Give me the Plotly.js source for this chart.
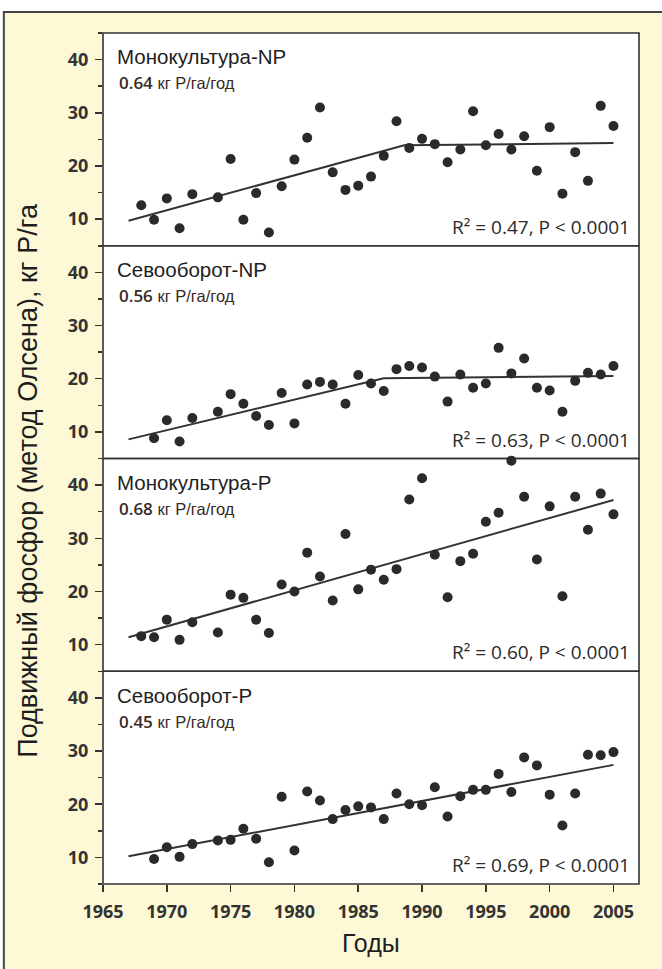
<!DOCTYPE html>
<html>
<head>
<meta charset="utf-8">
<script src="https://cdn.plot.ly/plotly-3.0.1.min.js"></script>
<style>
html,body{margin:0;padding:0;background:#ffffff;}
#chart{width:662px;height:969px;}
</style>
</head>
<body>
<div id="chart"></div>
<script>
// ---- Data ----
const panelNames = ["Монокультура-NP", "Севооборот-NP", "Монокультура-P", "Севооборот-P"];
const rates = ["0.64", "0.56", "0.68", "0.45"];
const stats = ["R² = 0.47, P < 0.0001", "R² = 0.63, P < 0.0001", "R² = 0.60, P < 0.0001", "R² = 0.69, P < 0.0001"];

const yearsMonoNP = [1968,1969,1970,1971,1972,1974,1975,1976,1977,1978,1979,1980,1981,1982,1983,1984,1985,1986,1987,1988,1989,1990,1991,1992,1993,1994,1995,1996,1997,1998,1999,2000,2001,2002,2003,2004,2005];
const valsMonoNP  = [12.6,9.9,13.9,8.3,14.7,14.1,21.3,9.9,14.9,7.5,16.2,21.2,25.3,31.0,18.8,15.5,16.3,18.0,21.9,28.4,23.4,25.1,24.1,20.7,23.1,30.3,23.9,26.0,23.1,25.6,19.1,27.3,14.8,22.6,17.2,31.3,27.5];
const fitXMonoNP = [1967, 1988.6, 2005];
const fitYMonoNP = [9.7, 23.9, 24.3];

const yearsRotNP = [1969,1970,1971,1972,1974,1975,1976,1977,1978,1979,1980,1981,1982,1983,1984,1985,1986,1987,1988,1989,1990,1991,1992,1993,1994,1995,1996,1997,1998,1999,2000,2001,2002,2003,2004,2005];
const valsRotNP  = [8.8,12.2,8.2,12.6,13.8,17.1,15.3,13.0,11.3,17.3,11.6,18.9,19.4,18.9,15.3,20.7,19.1,17.7,21.8,22.4,22.1,20.4,15.7,20.8,18.3,19.1,25.8,21.0,23.8,18.3,17.8,13.8,19.6,21.1,20.8,22.4];
const fitXRotNP = [1967, 1987.0, 2005];
const fitYRotNP = [8.6, 20.1, 20.5];

const yearsMonoP = [1968,1969,1970,1971,1972,1974,1975,1976,1977,1978,1979,1980,1981,1982,1983,1984,1985,1986,1987,1988,1989,1990,1991,1992,1993,1994,1995,1996,1997,1998,1999,2000,2001,2002,2003,2004,2005];
const valsMonoP  = [11.6,11.4,14.7,10.9,14.2,12.3,19.4,18.8,14.7,12.2,21.3,20.0,27.3,22.8,18.3,30.8,20.4,24.1,22.2,24.2,37.3,41.3,26.9,18.9,25.7,27.1,33.1,34.8,44.6,37.8,26.0,36.0,19.1,37.8,31.6,38.4,34.5];
const fitXMonoP = [1967, 2005];
const fitYMonoP = [11.4, 37.2];

const yearsRotP = [1969,1970,1971,1972,1974,1975,1976,1977,1978,1979,1980,1981,1982,1983,1984,1985,1986,1987,1988,1989,1990,1991,1992,1993,1994,1995,1996,1997,1998,1999,2000,2001,2002,2003,2004,2005];
const valsRotP  = [9.7,11.9,10.1,12.5,13.2,13.3,15.4,13.5,9.1,21.4,11.3,22.4,20.7,17.2,18.9,19.6,19.4,17.2,22.0,20.0,19.8,23.2,17.7,21.5,22.7,22.7,25.7,22.3,28.8,27.3,21.8,16.0,22.0,29.3,29.2,29.8];
const fitXRotP = [1967, 2005];
const fitYRotP = [10.2, 27.4];

const yTickVals = [10, 20, 30, 40];
const yTickText = ["10", "20", "30", "40"];
const xTickVals = [1965,1970,1975,1980,1985,1990,1995,2000,2005];
const xTickText = ["1965","1970","1975","1980","1985","1990","1995","2000","2005"];

// ---- Build traces ----
const dotColor = "#2a2a2a";
const lineColor = "#333333";
const panels = [
  {years: yearsMonoNP, vals: valsMonoNP, fx: fitXMonoNP, fy: fitYMonoNP, ax: "y4"},
  {years: yearsRotNP,  vals: valsRotNP,  fx: fitXRotNP,  fy: fitYRotNP,  ax: "y3"},
  {years: yearsMonoP,  vals: valsMonoP,  fx: fitXMonoP,  fy: fitYMonoP,  ax: "y2"},
  {years: yearsRotP,   vals: valsRotP,   fx: fitXRotP,   fy: fitYRotP,   ax: "y"}
];
const traces = [];
panels.forEach(p => {
  traces.push({x: p.fx, y: p.fy, xaxis: "x", yaxis: p.ax, mode: "lines",
    line: {color: lineColor, width: 2}, hoverinfo: "skip", showlegend: false});
  traces.push({x: p.years, y: p.vals, xaxis: "x", yaxis: p.ax, mode: "markers", cliponaxis: false,
    marker: {color: dotColor, size: 10}, showlegend: false});
});

// ---- Layout ----
const tickFont = {family: "Open Sans, sans-serif", size: 18, color: "#333333"};
const bold = t => "<b>" + t + "</b>";
function yAxis(domain) {
  return {
    domain: domain, range: [5, 45], anchor: "x",
    tickmode: "array", tickvals: yTickVals, ticktext: yTickText.map(bold),
    ticks: "outside", ticklen: 7, tickwidth: 1.5, tickcolor: "#333",
    minor: {tickmode: "array", tickvals: [5, 15, 25, 35, 45], ticks: "outside", ticklen: 4, tickwidth: 1.5, tickcolor: "#333", showgrid: false},
    showgrid: false, zeroline: false, showline: false,
    tickfont: tickFont, ticklabelstandoff: 3, fixedrange: true
  };
}

const cream = "#fdf8d6";
const border = "#333333";
const shapes = [
  {type: "rect", xref: "paper", yref: "paper", x0: -0.185, x1: 1.3, y0: -0.3, y1: 1.0247,
   fillcolor: cream, line: {color: "#444", width: 2}, layer: "below"}
];
const doms = [[0.75,1],[0.5,0.75],[0.25,0.5],[0,0.25]];
doms.forEach(d => {
  shapes.push({type: "rect", xref: "paper", yref: "paper", x0: 0, x1: 1, y0: d[0], y1: d[1],
    fillcolor: "#ffffff", line: {width: 0}, layer: "below"});
});
doms.forEach(d => {
  shapes.push({type: "rect", xref: "paper", yref: "paper", x0: 0, x1: 1, y0: d[0], y1: d[1],
    fillcolor: "rgba(0,0,0,0)", line: {color: border, width: 1.6}, layer: "below"});
});

const annotations = [];
const axRefs = ["y4", "y3", "y2", "y"];
for (let i = 0; i < 4; i++) {
  const yr = axRefs[i] + " domain";
  annotations.push({xref: "x domain", yref: yr, x: 0.022, y: 1 - 24/213, xanchor: "left", yanchor: "middle",
    text: panelNames[i], showarrow: false,
    font: {family: "Liberation Sans, Arial, sans-serif", size: 20.5, color: "#1e1e1e"}});
  annotations.push({xref: "x domain", yref: yr, x: 0.027, y: 1 - 50/213, xanchor: "left", yanchor: "middle",
    text: "<span style='font-family:Open Sans;font-size:17px;font-weight:600'>" + rates[i] + "</span> кг P/га/год",
    showarrow: false,
    font: {family: "Liberation Sans, Arial, sans-serif", size: 16.5, color: "#3a2a1e"}});
  annotations.push({xref: "x domain", yref: yr, x: 0.987, y: 19/213, xanchor: "right", yanchor: "middle",
    text: stats[i], showarrow: false,
    font: {family: "Open Sans, sans-serif", size: 19, color: "#2a2a2a"}});
}
annotations.push({xref: "paper", yref: "paper", x: -0.140, y: 0.475, xanchor: "center", yanchor: "middle",
  textangle: -90, text: "Подвижный фосфор (метод Олсена), кг P/га", showarrow: false,
  font: {family: "Liberation Sans, Arial, sans-serif", size: 27, color: "#1e1e1e"}});
annotations.push({xref: "paper", yref: "paper", x: 0.5, y: -0.069, xanchor: "center", yanchor: "middle",
  text: "Годы", showarrow: false,
  font: {family: "Liberation Sans, Arial, sans-serif", size: 25, color: "#1e1e1e"}});

const layout = {
  width: 662, height: 969,
  margin: {l: 103, r: 23, t: 33, b: 85},
  paper_bgcolor: "#ffffff", plot_bgcolor: "rgba(0,0,0,0)",
  showlegend: false,
  xaxis: {
    domain: [0, 1], range: [1965, 2007], anchor: "y",
    tickmode: "array", tickvals: xTickVals, ticktext: xTickText.map(bold),
    ticks: "outside", ticklen: 7, tickwidth: 1.5, tickcolor: "#333",
    showgrid: false, zeroline: false, showline: false,
    tickfont: tickFont, ticklabelstandoff: 4, fixedrange: true
  },
  yaxis: yAxis([0, 0.25]),
  yaxis2: yAxis([0.25, 0.5]),
  yaxis3: yAxis([0.5, 0.75]),
  yaxis4: yAxis([0.75, 1]),
  shapes: shapes,
  annotations: annotations
};

Plotly.newPlot("chart", traces, layout, {displayModeBar: false, staticPlot: true});
</script>
</body>
</html>
